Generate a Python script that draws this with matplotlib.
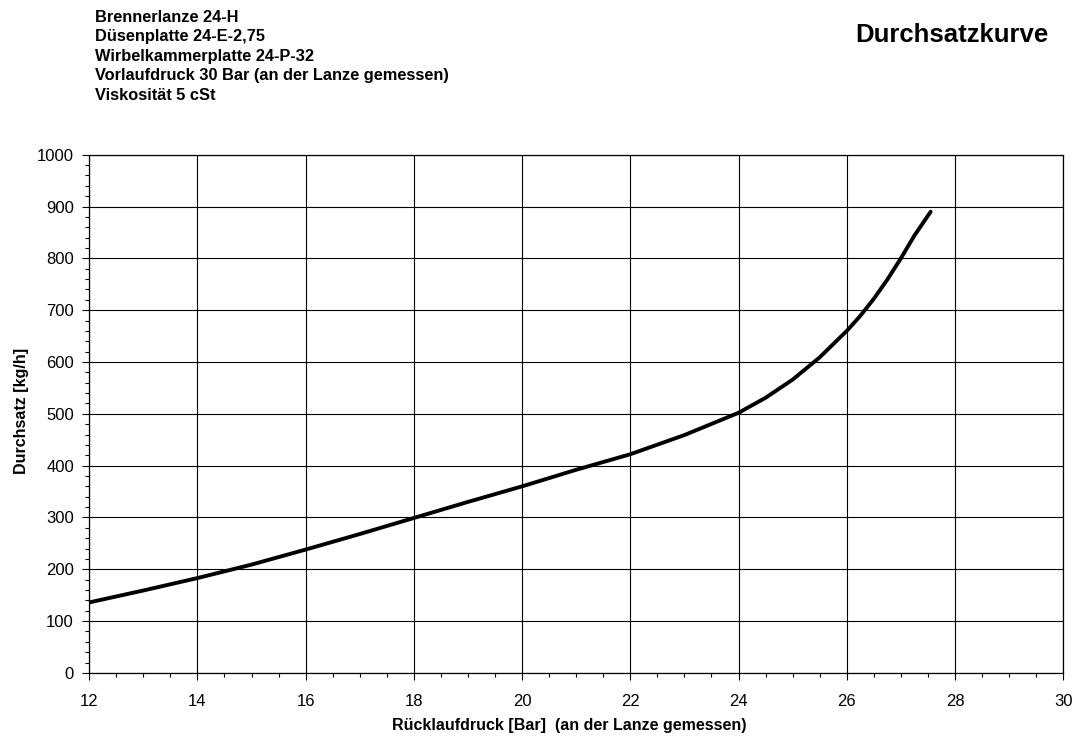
import matplotlib.pyplot as plt
from matplotlib.ticker import MultipleLocator

# values
ruecklauf = [12, 13, 14, 15, 16, 17, 18, 19, 20, 21, 22, 23, 24,
             24.5, 25, 25.5, 26, 26.25, 26.5, 26.75, 27, 27.25, 27.4, 27.55]
durchsatz = [136, 159, 183, 209, 238, 268, 299, 330, 360, 392, 422, 459, 502,
             531, 566, 609, 660, 689, 722, 759, 800, 844, 867, 890]

info_lines = [
    'Brennerlanze 24-H',
    'Düsenplatte 24-E-2,75',
    'Wirbelkammerplatte 24-P-32',
    'Vorlaufdruck 30 Bar (an der Lanze gemessen)',
    'Viskosität 5 cSt',
]

plt.rcParams['font.family'] = ['Liberation Sans', 'DejaVu Sans']


def main():
    fig = plt.figure(figsize=(10.75, 7.37), dpi=100)
    ax = fig.add_axes([0.083, 0.087, 0.906, 0.703])

    ax.plot(ruecklauf, durchsatz, color='black', lw=2.8,
            solid_capstyle='round', solid_joinstyle='round', zorder=3)

    ax.set_xlim(12, 30)
    ax.set_ylim(0, 1000)
    ax.xaxis.set_major_locator(MultipleLocator(2))
    ax.xaxis.set_minor_locator(MultipleLocator(0.5))
    ax.yaxis.set_major_locator(MultipleLocator(100))
    ax.yaxis.set_minor_locator(MultipleLocator(20))
    ax.grid(True, which='major', color='black', lw=0.8)
    ax.tick_params(which='major', length=5, width=0.8, labelsize=12, pad=6)
    ax.tick_params(which='minor', length=3, width=0.8)
    ax.tick_params(axis='x', pad=10)
    for sp in ax.spines.values():
        sp.set_linewidth(0.9)

    # axis titles placed in figure coordinates so they stay inside the canvas
    fig.text(0.530, 0.016, 'Rücklaufdruck [Bar]  (an der Lanze gemessen)',
             fontsize=11.5, fontweight='bold', ha='center', va='center')
    fig.text(0.020, 0.443, 'Durchsatz [kg/h]', fontsize=11.5,
             fontweight='bold', ha='center', va='center', rotation=90)

    fig.text(0.088, 0.987, '\n'.join(info_lines), fontsize=11.8,
             fontweight='bold', va='top', ha='left', linespacing=1.38)
    fig.text(0.975, 0.953, 'Durchsatzkurve', fontsize=18.5,
             fontweight='bold', va='center', ha='right')

    fig.savefig('out.png', dpi=100)


if __name__ == '__main__':
    main()
